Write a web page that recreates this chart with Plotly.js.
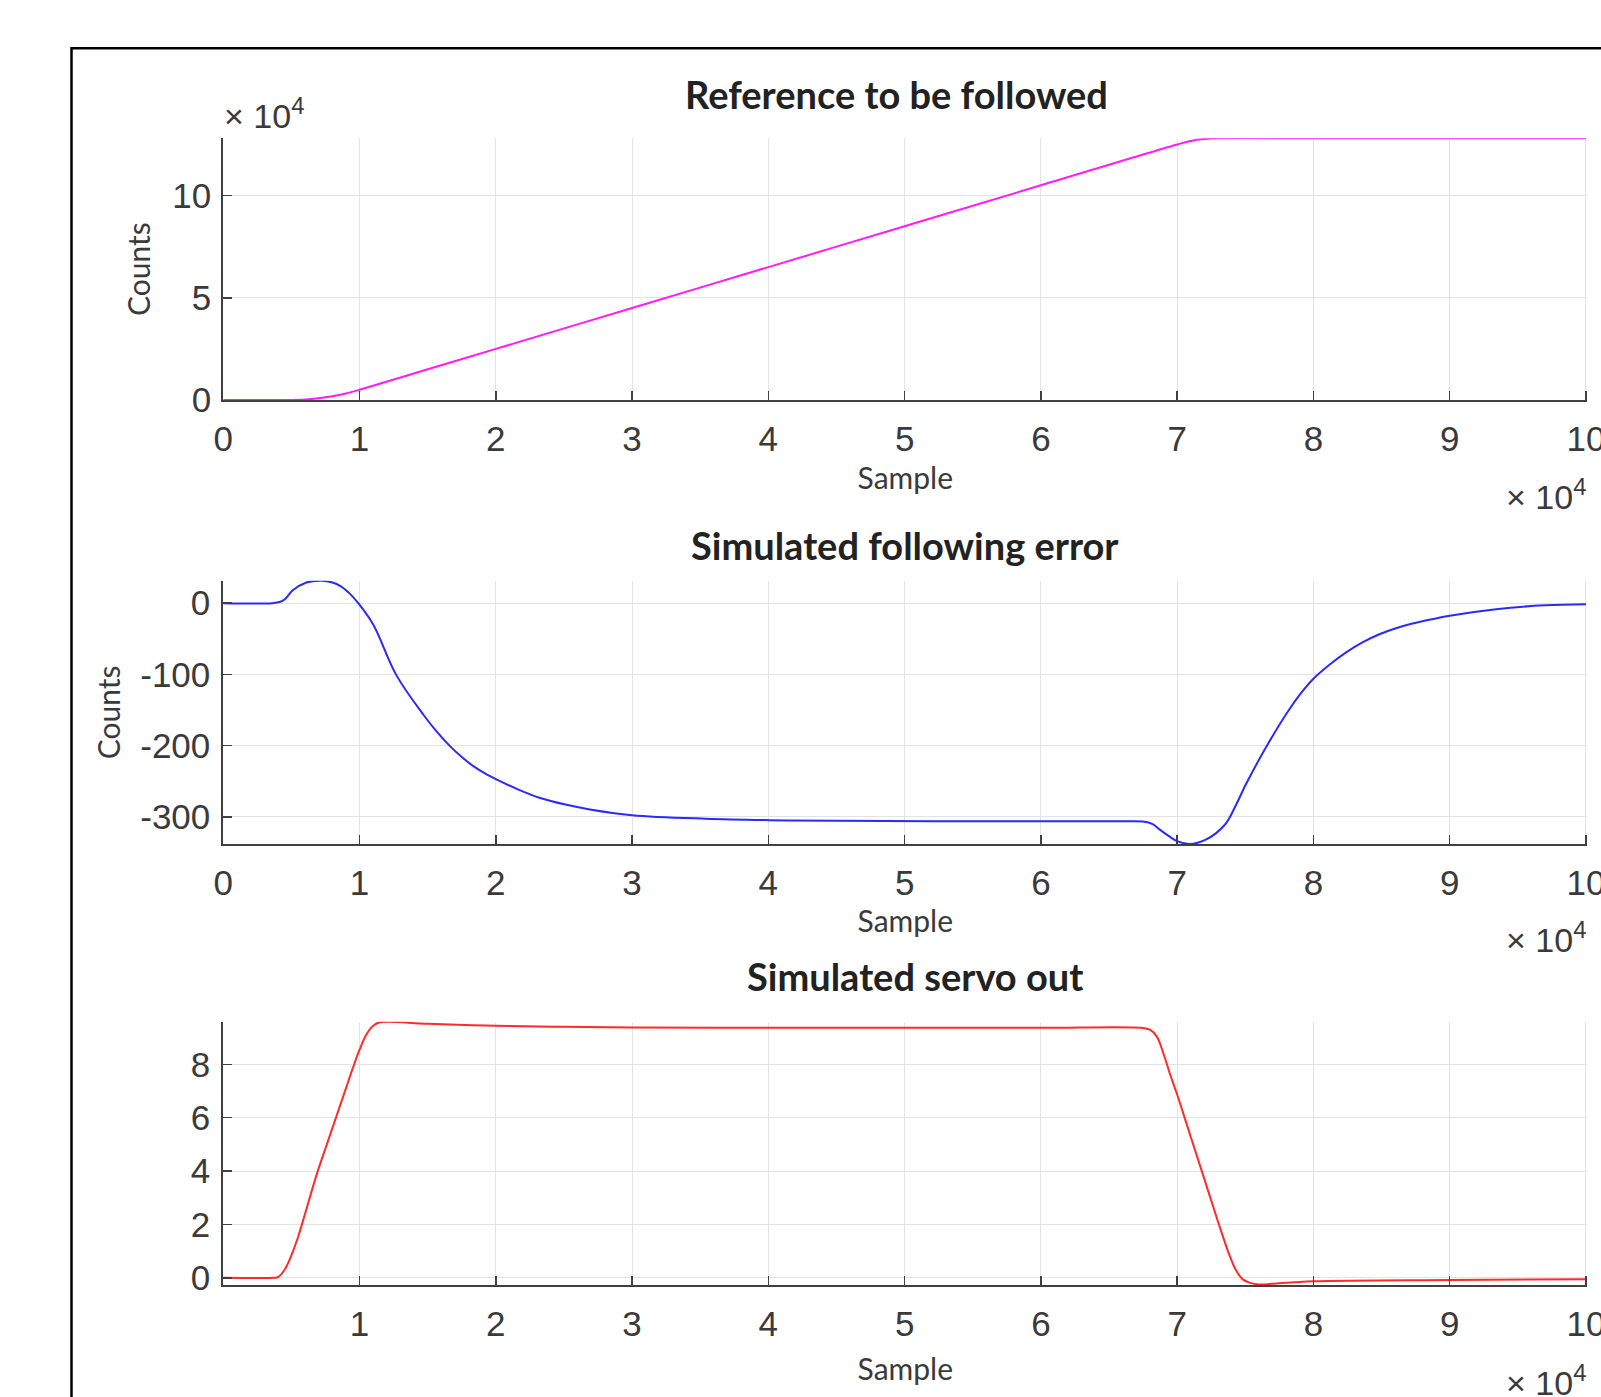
<!DOCTYPE html>
<html>
<head>
<meta charset="utf-8">
<script src="https://cdn.plot.ly/plotly-3.0.1.min.js"></script>
<style>
  html, body { margin: 0; padding: 0; background: #ffffff; }
  #chart { width: 1601px; height: 1397px; }
</style>
</head>
<body>
<div id="chart"></div>
<script>
// ---------------- data ----------------
// Panel 1: reference to be followed (counts)
const refX = [0, 5000, 6000, 7000, 8000, 9000, 10000, 15000, 20000, 30000, 40000, 50000, 60000,
              70000, 71000, 72000, 73000, 80000, 90000, 100000];
const refY = [0, 0, 200, 800, 1800, 3200, 5000, 15000, 25000, 45000, 65000, 85000, 105000,
              125000, 126700, 127600, 128000, 128000, 128000, 128000];

// Panel 2: simulated following error (counts)
const errX = [0, 3600, 4200, 4500, 5100, 6100, 7200, 8000, 8600, 9300, 9900, 11000, 12700, 14700,
              15650, 16600, 17500, 18300, 19200, 20000, 21700, 23200, 25200, 26900, 30000, 35400,
              40000, 45000, 55000, 66000, 67500, 68200, 68700, 69400, 70000, 70900, 72100, 73500,
              74300, 75000, 76500, 78200, 79100, 80000, 81200, 82400, 83600, 84800, 86000, 87200,
              88600, 90000, 93400, 97000, 100000];
const errY = [0, 0, 2, 5, 18, 29, 31.5, 29, 24, 13, 0, -30, -101, -157,
              -180, -200, -216, -228, -239, -247, -262, -273, -283, -289.5, -297.5, -302.5,
              -304.5, -305.5, -306, -306, -306.5, -310, -317.5, -327, -334, -338, -332, -311,
              -284, -256, -203, -150, -126, -106, -86, -69, -55, -44, -35.5, -29,
              -23, -17.7, -8.5, -3, -1.5];

// Panel 3: simulated servo out
const servoX = [0, 3700, 4000, 4500, 5000, 5500, 6000, 6900, 7600, 8300, 9000, 9500, 10000, 10500,
                11000, 11500, 15000, 20000, 25000, 30000, 40000, 50000, 60000, 67400, 68000, 68500,
                69000, 69500, 70000, 71000, 72000, 73000, 73800, 74300, 74800, 75300, 76000, 77000,
                80000, 90000, 100000];
const servoY = [0, 0, 0.02, 0.3, 0.85, 1.55, 2.4, 3.95, 5.0, 6.05, 7.1, 7.85, 8.55, 9.12,
                9.45, 9.58, 9.52, 9.45, 9.41, 9.38, 9.37, 9.37, 9.37, 9.37, 9.3, 9.05,
                8.4, 7.6, 6.87, 5.28, 3.7, 2.1, 0.9, 0.3, -0.05, -0.18, -0.25, -0.22,
                -0.13, -0.08, -0.05];

// tick labels
const xTickVals = [0, 10000, 20000, 30000, 40000, 50000, 60000, 70000, 80000, 90000, 100000];
const xTickText = ['0', '1', '2', '3', '4', '5', '6', '7', '8', '9', '10'];
const xTickVals3 = [10000, 20000, 30000, 40000, 50000, 60000, 70000, 80000, 90000, 100000];
const xTickText3 = ['1', '2', '3', '4', '5', '6', '7', '8', '9', '10'];
const refTickVals = [0, 50000, 100000];
const refTickText = ['0', '5', '10'];
const errTickVals = [-300, -200, -100, 0];
const servoTickVals = [0, 2, 4, 6, 8];

const titles = ['Reference to be followed', 'Simulated following error', 'Simulated servo out'];

// ---------------- layout helpers (figure pixel -> paper fraction) ----------------
const W = 1601, H = 1397;
const px = v => v / W;
const py = v => 1 - v / H;

const tickFont = {family: 'Liberation Sans, Arial, sans-serif', size: 35, color: '#3a3a3a'};
const labFont = {family: 'Lato, Open Sans, sans-serif', size: 30, color: '#3a3a3a'};
const titleFont = {family: 'Lato, Open Sans, sans-serif', size: 38, color: '#222222'};
const expFont = {family: 'Liberation Sans, Arial, sans-serif', size: 34, color: '#3a3a3a'};

function baseAxis(extra) {
  return Object.assign({
    showline: true, linecolor: '#404040', linewidth: 2, mirror: false,
    ticks: 'inside', ticklen: 9, tickwidth: 1.5, tickcolor: '#404040',
    showgrid: true, gridcolor: '#e3e3e3', gridwidth: 1,
    zeroline: false, automargin: false, fixedrange: true,
    tickfont: tickFont, tickmode: 'array', ticklabeloverflow: 'allow'
  }, extra);
}

const xDom = [px(223.3), px(1587.3)];
const xRange = [0, 100100];

const data = [
  {x: refX, y: refY, type: 'scatter', mode: 'lines', xaxis: 'x', yaxis: 'y',
   line: {color: '#ff1aff', width: 2, shape: 'spline', smoothing: 1}, showlegend: false},
  {x: errX, y: errY, type: 'scatter', mode: 'lines', xaxis: 'x2', yaxis: 'y2',
   line: {color: '#2a2aff', width: 2, shape: 'spline', smoothing: 1}, showlegend: false},
  {x: servoX, y: servoY, type: 'scatter', mode: 'lines', xaxis: 'x3', yaxis: 'y3',
   line: {color: '#ff2a2a', width: 2, shape: 'spline', smoothing: 1}, showlegend: false}
];

const layout = {
  width: W, height: H,
  margin: {l: 0, r: 0, t: 0, b: 0, pad: 0},
  paper_bgcolor: '#ffffff', plot_bgcolor: '#ffffff',
  showlegend: false,
  xaxis: baseAxis({domain: xDom, anchor: 'y', range: xRange, tickvals: xTickVals, ticktext: xTickText,
    ticklabelstandoff: 7,
    title: {text: 'Sample', font: labFont, standoff: 11}}),
  yaxis: baseAxis({domain: [py(400), py(138.3)], anchor: 'x', range: [0, 128000],
    tickvals: refTickVals, ticktext: refTickText, ticklabelstandoff: 3,
    title: {text: 'Counts', font: labFont, standoff: 13}}),
  xaxis2: baseAxis({domain: xDom, anchor: 'y2', range: xRange, tickvals: xTickVals, ticktext: xTickText,
    ticklabelstandoff: 7,
    title: {text: 'Sample', font: labFont, standoff: 5}}),
  yaxis2: baseAxis({domain: [py(844), py(580.7)], anchor: 'x2', range: [-338, 31.5],
    tickvals: errTickVals, ticktext: errTickVals.map(String), ticklabelstandoff: 4,
    title: {text: 'Counts', font: labFont, standoff: 11}}),
  xaxis3: baseAxis({domain: xDom, anchor: 'y3', range: xRange, tickvals: xTickVals3, ticktext: xTickText3,
    ticklabelstandoff: 7,
    title: {text: 'Sample', font: labFont, standoff: 17}}),
  yaxis3: baseAxis({domain: [py(1285), py(1021.7)], anchor: 'x3', range: [-0.27, 9.6],
    tickvals: servoTickVals, ticktext: servoTickVals.map(String), ticklabelstandoff: 4}),
  shapes: [
    {type: 'rect', xref: 'paper', yref: 'paper', x0: px(71.5), x1: 1.02, y0: -0.02, y1: py(48.3),
     line: {color: '#000000', width: 2.5}, fillcolor: 'rgba(0,0,0,0)', layer: 'below'}
  ],
  annotations: [
    {text: '<b>' + titles[0] + '</b>', xref: 'paper', yref: 'paper', x: px(896), y: py(94),
     xanchor: 'center', yanchor: 'middle', showarrow: false, font: titleFont},
    {text: '<b>' + titles[1] + '</b>', xref: 'paper', yref: 'paper', x: px(905), y: py(545),
     xanchor: 'center', yanchor: 'middle', showarrow: false, font: titleFont},
    {text: '<b>' + titles[2] + '</b>', xref: 'paper', yref: 'paper', x: px(915), y: py(976),
     xanchor: 'center', yanchor: 'middle', showarrow: false, font: titleFont},
    {text: '\u00d7 10<sup>4</sup>', xref: 'paper', yref: 'paper', x: px(222), y: py(113),
     xanchor: 'left', yanchor: 'middle', showarrow: false, font: expFont},
    {text: '\u00d7 10<sup>4</sup>', xref: 'paper', yref: 'paper', x: px(1588), y: py(494),
     xanchor: 'right', yanchor: 'middle', showarrow: false, font: expFont},
    {text: '\u00d7 10<sup>4</sup>', xref: 'paper', yref: 'paper', x: px(1588), y: py(938),
     xanchor: 'right', yanchor: 'middle', showarrow: false, font: expFont},
    {text: '\u00d7 10<sup>4</sup>', xref: 'paper', yref: 'paper', x: px(1588), y: py(1380),
     xanchor: 'right', yanchor: 'middle', showarrow: false, font: expFont}
  ]
};

Plotly.newPlot('chart', data, layout, {displayModeBar: false, staticPlot: true});
</script>
</body>
</html>
